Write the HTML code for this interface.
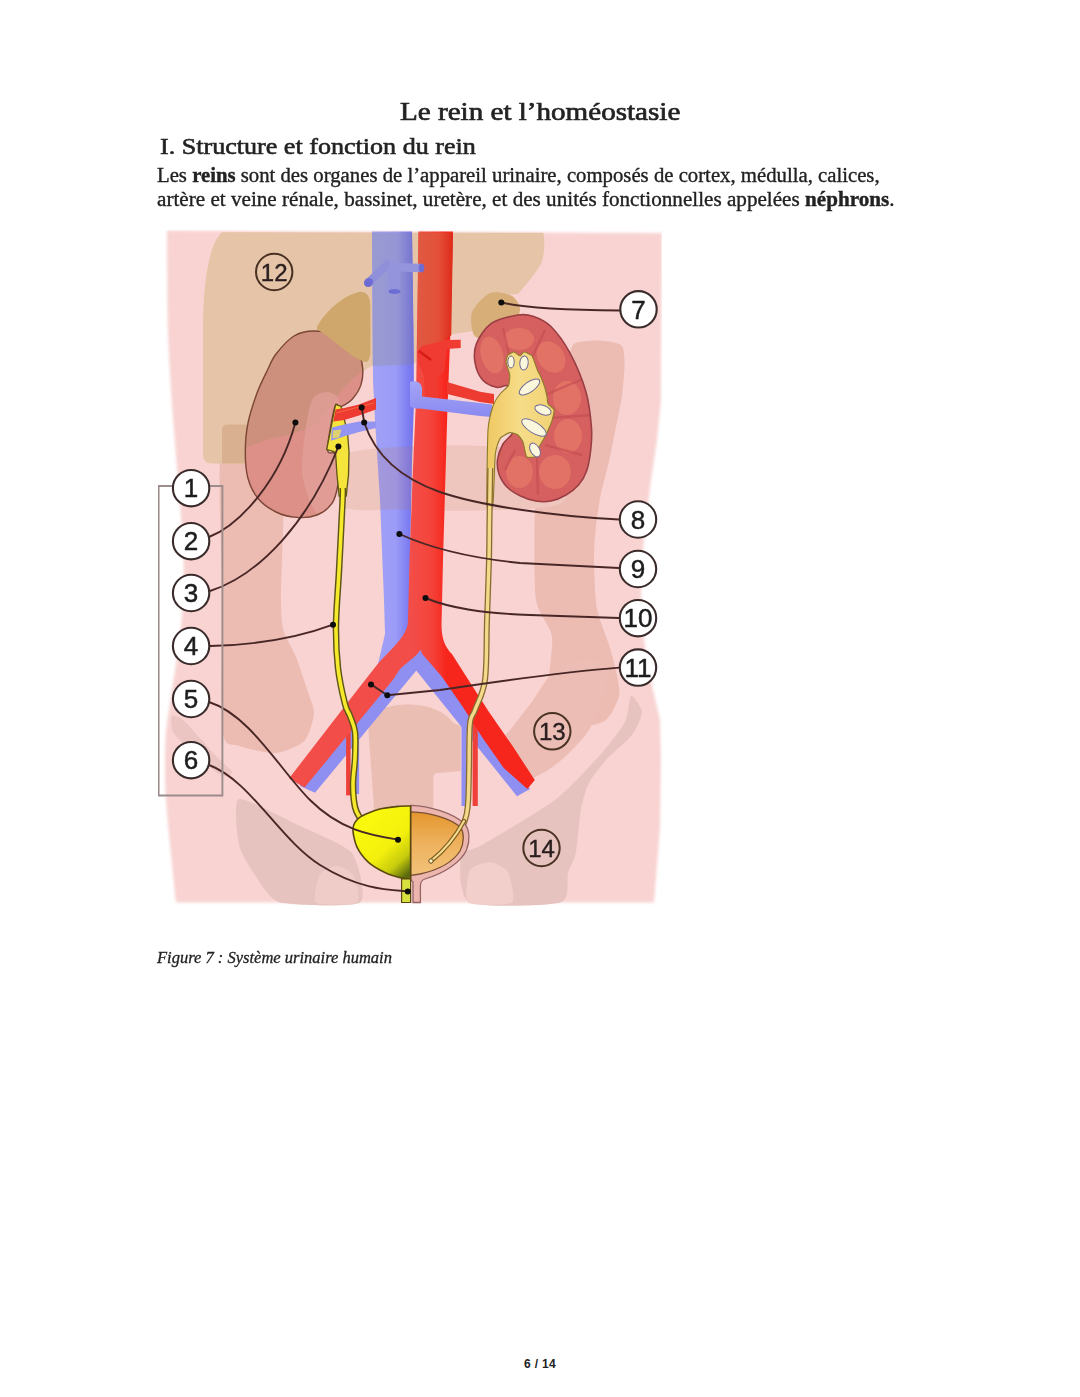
<!DOCTYPE html>
<html><head><meta charset="utf-8">
<style>
html,body{margin:0;padding:0;background:#fff;width:1080px;height:1397px;overflow:hidden;position:relative}
.t{position:absolute;white-space:nowrap;color:#222;font-family:"Liberation Serif",serif;line-height:1;margin:0}
#title{left:400px;top:99px;font-size:26px;font-weight:normal;-webkit-text-stroke:0.7px #262626;transform-origin:0 0;transform:scaleX(1.119)}
#h1{left:160px;top:135px;font-size:23px;font-weight:normal;-webkit-text-stroke:0.6px #262626;transform-origin:0 0;transform:scaleX(1.134)}
#p1{left:157px;top:165px;font-size:20px;-webkit-text-stroke:0.35px #222;transform-origin:0 0;transform:scaleX(1.037)}
#p2{left:157px;top:189px;font-size:20px;-webkit-text-stroke:0.35px #222;transform-origin:0 0;transform:scaleX(1.057)}
#cap{left:157px;top:950px;font-size:16px;-webkit-text-stroke:0.3px #262626;font-style:italic;transform-origin:0 0;transform:scaleX(1.032)}
#pg{left:524px;top:1358px;font-size:12px;letter-spacing:0.35px;font-weight:bold;font-family:"Liberation Sans",sans-serif}
svg#d{position:absolute;left:0;top:0}
</style></head><body>
<div class="t" id="title">Le rein et l’homéostasie</div>
<div class="t" id="h1">I. Structure et fonction du rein</div>
<div class="t" id="p1">Les <b>reins</b> sont des organes de l’appareil urinaire, composés de cortex, médulla, calices,</div>
<div class="t" id="p2">artère et veine rénale, bassinet, uretère, et des unités fonctionnelles appelées <b>néphrons</b>.</div>
<div class="t" id="cap">Figure 7 : Système urinaire humain</div>
<div class="t" id="pg">6 / 14</div>
<svg id="d" width="1080" height="1397" viewBox="0 0 1080 1397">
<defs>
<linearGradient id="gvc" x1="0" x2="1" y1="0" y2="0"><stop offset="0" stop-color="#a0a0f6"/><stop offset="0.55" stop-color="#9c9cf8"/><stop offset="1" stop-color="#7070ee"/></linearGradient>
<linearGradient id="gvcU" x1="0" x2="1" y1="0" y2="0"><stop offset="0" stop-color="#9a9ad2"/><stop offset="0.6" stop-color="#9696d6"/><stop offset="1" stop-color="#7272d0"/></linearGradient>
<linearGradient id="gao" x1="0" x2="1" y1="0" y2="0"><stop offset="0" stop-color="#f24c46"/><stop offset="0.55" stop-color="#f4443c"/><stop offset="1" stop-color="#f81c12"/></linearGradient>
<linearGradient id="gaoU" x1="0" x2="1" y1="0" y2="0"><stop offset="0" stop-color="#e05a42"/><stop offset="0.6" stop-color="#e4503a"/><stop offset="1" stop-color="#de2a18"/></linearGradient>
<linearGradient id="gbl" x1="0.2" x2="0.85" y1="0.1" y2="1"><stop offset="0" stop-color="#fafa0a"/><stop offset="0.55" stop-color="#f4f010"/><stop offset="0.8" stop-color="#c8cc10"/><stop offset="1" stop-color="#5c6c08"/></linearGradient>
<linearGradient id="gbr" x1="0" x2="0" y1="0" y2="1"><stop offset="0" stop-color="#e4962e"/><stop offset="0.5" stop-color="#eeb25e"/><stop offset="1" stop-color="#f2c27a"/></linearGradient>
<linearGradient id="gpel" x1="0" x2="1" y1="0" y2="0"><stop offset="0" stop-color="#efc862"/><stop offset="0.5" stop-color="#f6dc88"/><stop offset="1" stop-color="#f1d274"/></linearGradient>
<filter id="soft" x="0" y="0" width="1" height="1"><feGaussianBlur stdDeviation="0.55"/></filter>
<linearGradient id="gaoY" gradientUnits="userSpaceOnUse" x1="410" x2="447" y1="0" y2="0"><stop offset="0" stop-color="#f24e48"/><stop offset="0.55" stop-color="#f4443c"/><stop offset="1" stop-color="#f7261c"/></linearGradient>
</defs>
<g filter="url(#soft)">
<filter id="silb" x="-0.05" y="-0.05" width="1.1" height="1.1"><feGaussianBlur stdDeviation="1.6"/></filter>
<path d="M167,230.5C167.1,243.8 167.4,307.4 168,330C168.6,352.6 170.7,384 171.7,400C172.7,416 174.6,436.7 175.6,450C176.6,463.3 178.5,486.7 179.5,500C180.5,513.3 182.8,536.7 183.3,550C183.8,563.3 184,586.7 183.3,600C182.6,613.3 179.7,636.7 178,650C176.3,663.3 172.2,688 170.5,700C168.8,712 166.1,726.7 165.5,740C164.9,753.3 164.6,778.3 166,800C167.4,821.7 174.7,888.8 176,902.5 L654,902.5 L660,827 L661,760 L660,720 L653,690 L646,655 L642,620 L641,590 L642,560 L646,520 L651,480 L657,440 L661,400 L662,233Z" fill="#f8d3d1" filter="url(#silb)"/>
<path d="M222.6,440C229.4,421.3 274.2,421.3 281,440C287.8,458.7 280.6,577.6 281,600C281.4,622.4 282.2,625.4 284,632C285.8,638.6 293.1,649.6 296,657C298.9,664.4 306.9,688.4 309,695C311.1,701.6 314.5,708.6 314,714C313.5,719.4 308.8,736.5 304.4,741C300,745.5 283.6,752.4 276,753C268.4,753.6 245.6,748.5 239.4,746C233.2,743.5 224.6,748.5 222.6,731.5C220.6,714.5 222.6,634 222.6,600C222.6,566 215.8,458.7 222.6,440Z" fill="#ecbcb3"/>
<path d="M574,344C577.5,341.1 592.5,340.4 598,340.5C603.5,340.6 617.9,342.4 621,345C624.1,347.6 624.5,357.1 624.6,363C624.7,368.9 623,388.3 622,396C621,403.7 617.1,421 615.6,428.7C614.1,436.4 610.7,453.9 609,461.6C607.3,469.3 602.3,486.9 600.8,494.6C599.3,502.3 596.6,519.9 595.8,527.5C595,535.1 593.9,550.5 594,560C594.1,569.5 595,598.4 597,609C599,619.6 608.4,641.2 611,651C613.6,660.8 620.1,685 619.5,693C618.9,701 610.6,716.3 606,720C601.4,723.7 586.6,727.3 580,725C573.4,722.7 552.3,710.3 549,700C545.7,689.7 553.5,648.7 552,637C550.5,625.3 538,614.7 536,600C534,585.3 534,526.2 535,511C536,495.8 542.1,480.6 545,470C547.9,459.4 557.3,432.2 560,420C562.7,407.8 566.4,373.9 568,365C569.6,356.1 570.5,346.9 574,344Z" fill="#ecbcb3"/>
<path d="M560,665C569.5,659.5 595.9,659.2 602,662C608.1,664.8 607.7,676.9 606,686C604.3,695.1 595.3,719.9 589,730C582.7,740.1 567,755.5 559,762C551,768.5 536.2,777.9 529,779C521.8,780.1 509.8,774 505,770C500.2,766 492.3,754.3 493,749C493.7,743.7 504.9,736.1 510,730C515.1,723.9 524.3,711.7 531,703C537.7,694.3 550.5,670.5 560,665Z" fill="#ecbdb5"/>
<path d="M342,456C352.4,448 398.9,447.2 420,446C441.1,444.8 481.3,445.4 500,447C518.7,448.6 551.7,450.5 560,458C568.3,465.5 572.7,496 562,503C551.3,510 501.6,509.6 480,510.5C458.4,511.4 418.4,510.1 400,509.5C381.6,508.9 349.7,513.1 342,506C334.3,498.9 331.6,464 342,456Z" fill="#efc6bd"/>
<path d="M379,710 C390,705.5 400,704.6 410,704.6 C430,705 445,712 453,722.8 L460.6,726 L460.6,771 L436,773.3 C434,774 433.3,776 433.3,778 L433.3,812 L374,812 L373.7,803 L368.5,731.8 C369,720 373,712 379,710 Z" fill="#ebbeb4"/>
<path d="M172,716C173.3,714.4 179.3,717.1 183,720C186.7,722.9 195.3,732.9 200,738C204.7,743.1 213.7,753.5 218,758C222.3,762.5 231.5,769.6 232,772C232.5,774.4 225.7,777.3 222,776C218.3,774.7 208.8,766 204,762C199.2,758 190.1,750 186,746C181.9,742 174.9,736 173,732C171.1,728 170.7,717.6 172,716Z" fill="#ebc5c1"/>
<path d="M239,799C245.1,797.1 288.7,820.6 300,826C311.3,831.4 346,845.4 352,853C358,860.6 367.2,897.5 360,902.5C352.8,907.5 290.5,905.2 280,902.5C269.5,899.8 259.1,880.8 255,875C250.9,869.2 240.6,852.6 239,845C237.4,837.4 232.9,800.9 239,799Z" fill="#e6c3be"/>
<path d="M631,696C633,694.8 641.9,707.5 642,712C642.1,716.5 636.2,729.4 632,735C627.8,740.6 611,754.4 606,760C601,765.6 591.9,777.3 589,783C586.1,788.7 582.5,801 581,809C579.5,817 577.5,844.5 576,852C574.5,859.5 569.9,867.1 568,873C566.1,878.9 571.4,899.1 560,902.5C548.6,905.9 481.6,907.9 470,902.5C458.4,897.1 459.6,862.7 461,856C462.4,849.3 471,851.5 482,845C493,838.5 541.2,810.5 555,800C568.8,789.5 591.8,764.1 600,755C608.2,745.9 621.4,728.9 625,722C628.6,715.1 629,697.2 631,696Z" fill="#e6c3be"/>
<path d="M470,870C472.2,866 486.2,861.8 490,862C493.8,862.2 505.8,868 508,872C510.2,876 516,899.5 512,902.5C508,905.5 472.2,905.8 468,902.5C463.8,899.2 467.8,874 470,870Z" fill="#f3cfcc"/>
<path d="M320,874C322.2,870.4 334.6,865.8 338,866C341.4,866.2 352.1,872.4 354,876C355.9,879.6 360.8,899.9 357,902.5C353.2,905.1 319.7,905.4 316,902.5C312.3,899.6 317.8,877.6 320,874Z" fill="#f0ccc8"/>
<path d="M222,232.2 L543.3,232.8 C545,240 544.5,252 542,262 C539,268 530,281 517.8,294 L492,296 C482,302 476,312 473,331 L453,334 L413,364.5 L372,366 C360,372 350,380 340,392 C332,404 322,420 311,428 C295,433 275,438 266,440 L247,447 L246,463.5 L212,463.5 C206,463.5 203,460 203,454 L203,330 C203,300 205,275 211,253 C214,243 218,236 222,232.2 Z" fill="#e5c4a8"/>
<clipPath id="livc"><path d="M222,232.2 L543.3,232.8 C545,240 544.5,252 542,262 C539,268 530,281 517.8,294 L492,296 C482,302 476,312 473,331 L453,334 L413,364.5 L372,366 C360,372 350,380 340,392 C332,404 322,420 311,428 C295,433 275,438 266,440 L247,447 L246,463.5 L212,463.5 C206,463.5 203,460 203,454 L203,330 C203,300 205,275 211,253 C214,243 218,236 222,232.2 Z"/></clipPath>
<path d="M222,463.5 L222,430 C222,426 224,424.4 228,424.4 L250,424.4 L250,463.5 Z" fill="#d9b191"/>
<path d="M490,293C495.3,290.9 508,293.7 512,296C516,298.3 520.3,305.5 520,310C519.7,314.5 514,326 510,330C506,334 494.8,339.3 490,340C485.2,340.7 476.4,338.7 474,335C471.6,331.3 469.9,317.6 472,312C474.1,306.4 484.7,295.1 490,293Z" fill="#d7ad78"/>
<clipPath id="rkc"><path d="M314,331C307.1,331 299.7,332.6 294,336C288.3,339.4 280.1,348.8 276,354C271.9,359.2 269.9,365.1 267,371C264.1,376.9 259.9,385.2 257,393C254.2,400.8 249.8,414.1 248,423C246.2,431.9 245.3,443.7 245.3,452C245.3,460.3 246,471.4 248,478.5C250,485.6 254.3,494 258.5,499C262.7,504 270.3,509.2 276,512C281.7,514.8 290.5,516.9 296.6,517.4C302.8,517.9 311.7,517.1 317,515C322.3,512.9 328.9,507.8 332,503.4C335.1,499 336.6,491.8 337.7,486C338.8,480.2 339.4,469.9 339,465C338.6,460.1 336.7,455.9 335,453.5C333.3,451.1 327.5,456 327.5,449C327.5,442 332.8,413.4 334.8,407C336.8,400.6 338.4,407.8 341,406.6C343.6,405.4 349.4,402.3 352.4,399C355.4,395.7 359.5,389.2 361,384.6C362.5,380 363.1,373.3 362.7,368.4C362.2,363.5 361.4,356.9 358,352C354.6,347.1 346.6,339.1 340,336C333.4,332.9 320.9,331 314,331Z"/></clipPath>
<path d="M314,331C307.1,331 299.7,332.6 294,336C288.3,339.4 280.1,348.8 276,354C271.9,359.2 269.9,365.1 267,371C264.1,376.9 259.9,385.2 257,393C254.2,400.8 249.8,414.1 248,423C246.2,431.9 245.3,443.7 245.3,452C245.3,460.3 246,471.4 248,478.5C250,485.6 254.3,494 258.5,499C262.7,504 270.3,509.2 276,512C281.7,514.8 290.5,516.9 296.6,517.4C302.8,517.9 311.7,517.1 317,515C322.3,512.9 328.9,507.8 332,503.4C335.1,499 336.6,491.8 337.7,486C338.8,480.2 339.4,469.9 339,465C338.6,460.1 336.7,455.9 335,453.5C333.3,451.1 327.5,456 327.5,449C327.5,442 332.8,413.4 334.8,407C336.8,400.6 338.4,407.8 341,406.6C343.6,405.4 349.4,402.3 352.4,399C355.4,395.7 359.5,389.2 361,384.6C362.5,380 363.1,373.3 362.7,368.4C362.2,363.5 361.4,356.9 358,352C354.6,347.1 346.6,339.1 340,336C333.4,332.9 320.9,331 314,331Z" fill="#dc9088"/>
<g clip-path="url(#rkc)">
<g clip-path="url(#livc)">
<path d="M230,300 L380,300 L380,530 L230,530Z" fill="#cd907b"/>
</g>
<path d="M312,400C316.8,390.4 333.7,390 338,398C342.3,406 344,445.3 344,460C344,474.7 341.7,501.1 338,508C334.3,514.9 320.8,517.1 316,512C311.2,506.9 302.5,484.9 302,470C301.5,455.1 307.2,409.6 312,400Z" fill="#e2a09a" opacity="0.75"/>
</g>
<path d="M314,331C307.1,331 299.7,332.6 294,336C288.3,339.4 280.1,348.8 276,354C271.9,359.2 269.9,365.1 267,371C264.1,376.9 259.9,385.2 257,393C254.2,400.8 249.8,414.1 248,423C246.2,431.9 245.3,443.7 245.3,452C245.3,460.3 246,471.4 248,478.5C250,485.6 254.3,494 258.5,499C262.7,504 270.3,509.2 276,512C281.7,514.8 290.5,516.9 296.6,517.4C302.8,517.9 311.7,517.1 317,515C322.3,512.9 328.9,507.8 332,503.4C335.1,499 336.6,491.8 337.7,486C338.8,480.2 339.4,469.9 339,465C338.6,460.1 336.7,455.9 335,453.5C333.3,451.1 327.5,456 327.5,449C327.5,442 332.8,413.4 334.8,407C336.8,400.6 338.4,407.8 341,406.6C343.6,405.4 349.4,402.3 352.4,399C355.4,395.7 359.5,389.2 361,384.6C362.5,380 363.1,373.3 362.7,368.4C362.2,363.5 361.4,356.9 358,352C354.6,347.1 346.6,339.1 340,336C333.4,332.9 320.9,331 314,331Z" fill="none" stroke="#7c4636" stroke-width="1.4"/>
<path d="M335.6,404.4 L341,406.5 L347.5,432 L349,452 L348.5,475 L346.2,496 L339.2,496 L337,475 L335.6,454 L334,451.5 L326.7,449.6Z" fill="#f4e43a" stroke="#5e5418" stroke-width="1.3"/>
<path d="M317,327 C325,312 342,296 359,292 C366,291 370,296 370.4,305 L370.4,352 C370,359 368,362 366,362 C358,360 350,354 344,349.4 C335,342 325,334 317,329.5 Z" fill="#cfa76c"/>
<path d="M518,315C511.6,316.1 497.2,319.3 491,323.6C484.8,327.9 478.9,337.8 476.5,343.6C474.1,349.4 474.1,356.9 475,362.3C475.9,367.7 479,375.6 482.2,379.4C485.4,383.1 492.6,386.3 496.5,387.3C500.4,388.3 505.2,384.1 508,386C510.8,387.9 514.1,393.4 515,400C515.9,406.6 515.8,423.4 514,430C512.2,436.6 505.5,439.5 503,444C500.5,448.5 498.1,455.5 497.5,460C496.9,464.5 497.6,469.9 499,474C500.4,478.1 503.8,483.7 507,487C510.2,490.3 516.2,493.9 520.5,496C524.8,498.1 531.1,500.2 535.7,501C540.3,501.8 546.5,501.9 551,501C555.5,500.1 561.9,497.4 566,495C570.1,492.6 575.4,488.6 578.5,485C581.6,481.4 584.9,475.9 586.7,470.7C588.5,465.4 590,456.4 590.7,450C591.4,443.6 592.2,436.7 591.5,428C590.8,419.3 589.3,403.4 586,392C582.7,380.6 574.8,362 569.5,352.2C564.2,342.4 556.3,331.9 550.9,326.5C545.5,321.1 538.6,318.2 533.7,316.5C528.8,314.8 524.4,313.9 518,315Z" fill="#d5615f"/>
<clipPath id="lkc"><path d="M518,315C511.6,316.1 497.2,319.3 491,323.6C484.8,327.9 478.9,337.8 476.5,343.6C474.1,349.4 474.1,356.9 475,362.3C475.9,367.7 479,375.6 482.2,379.4C485.4,383.1 492.6,386.3 496.5,387.3C500.4,388.3 505.2,384.1 508,386C510.8,387.9 514.1,393.4 515,400C515.9,406.6 515.8,423.4 514,430C512.2,436.6 505.5,439.5 503,444C500.5,448.5 498.1,455.5 497.5,460C496.9,464.5 497.6,469.9 499,474C500.4,478.1 503.8,483.7 507,487C510.2,490.3 516.2,493.9 520.5,496C524.8,498.1 531.1,500.2 535.7,501C540.3,501.8 546.5,501.9 551,501C555.5,500.1 561.9,497.4 566,495C570.1,492.6 575.4,488.6 578.5,485C581.6,481.4 584.9,475.9 586.7,470.7C588.5,465.4 590,456.4 590.7,450C591.4,443.6 592.2,436.7 591.5,428C590.8,419.3 589.3,403.4 586,392C582.7,380.6 574.8,362 569.5,352.2C564.2,342.4 556.3,331.9 550.9,326.5C545.5,321.1 538.6,318.2 533.7,316.5C528.8,314.8 524.4,313.9 518,315Z"/></clipPath>
<g clip-path="url(#lkc)">
<ellipse cx="492" cy="355" rx="11" ry="19" transform="rotate(-15 492 355)" fill="#e27265"/>
<ellipse cx="519" cy="339" rx="15" ry="11" transform="rotate(0 519 339)" fill="#e27265"/>
<ellipse cx="551" cy="357" rx="13" ry="17" transform="rotate(-35 551 357)" fill="#e27265"/>
<ellipse cx="567" cy="398" rx="14" ry="17" transform="rotate(0 567 398)" fill="#e27265"/>
<ellipse cx="568" cy="436" rx="14" ry="17" transform="rotate(0 568 436)" fill="#e27265"/>
<ellipse cx="555" cy="472" rx="16" ry="17" transform="rotate(0 555 472)" fill="#e27265"/>
<ellipse cx="519.5" cy="472" rx="13.5" ry="16" transform="rotate(0 519.5 472)" fill="#e27265"/>
<path d="M510,360 L503,328" fill="none" stroke="#c44a52" stroke-width="2.4" opacity="0.6"/>
<path d="M530,362 L545,330" fill="none" stroke="#c44a52" stroke-width="2.4" opacity="0.6"/>
<path d="M545,395 L585,378" fill="none" stroke="#c44a52" stroke-width="2.4" opacity="0.6"/>
<path d="M550,418 L590,415" fill="none" stroke="#c44a52" stroke-width="2.4" opacity="0.6"/>
<path d="M545,445 L582,455" fill="none" stroke="#c44a52" stroke-width="2.4" opacity="0.6"/>
<path d="M537,456 L538,495" fill="none" stroke="#c44a52" stroke-width="2.4" opacity="0.6"/>
<path d="M515,450 L505,470" fill="none" stroke="#c44a52" stroke-width="2.4" opacity="0.6"/>
</g>
<path d="M518,315C511.6,316.1 497.2,319.3 491,323.6C484.8,327.9 478.9,337.8 476.5,343.6C474.1,349.4 474.1,356.9 475,362.3C475.9,367.7 479,375.6 482.2,379.4C485.4,383.1 492.6,386.3 496.5,387.3C500.4,388.3 505.2,384.1 508,386C510.8,387.9 514.1,393.4 515,400C515.9,406.6 515.8,423.4 514,430C512.2,436.6 505.5,439.5 503,444C500.5,448.5 498.1,455.5 497.5,460C496.9,464.5 497.6,469.9 499,474C500.4,478.1 503.8,483.7 507,487C510.2,490.3 516.2,493.9 520.5,496C524.8,498.1 531.1,500.2 535.7,501C540.3,501.8 546.5,501.9 551,501C555.5,500.1 561.9,497.4 566,495C570.1,492.6 575.4,488.6 578.5,485C581.6,481.4 584.9,475.9 586.7,470.7C588.5,465.4 590,456.4 590.7,450C591.4,443.6 592.2,436.7 591.5,428C590.8,419.3 589.3,403.4 586,392C582.7,380.6 574.8,362 569.5,352.2C564.2,342.4 556.3,331.9 550.9,326.5C545.5,321.1 538.6,318.2 533.7,316.5C528.8,314.8 524.4,313.9 518,315Z" fill="none" stroke="#9a3e44" stroke-width="1.6"/>
<path d="M300,786 L315,792.8 L416.3,670.4 L517,796.3 L530,789 L425,640 L410,640Z" fill="#8f8ff2"/>
<path d="M346.1,728 L350.6,728 L350.6,795.4 L346.1,795.4Z" fill="#ee4038"/>
<path d="M355.2,728 L359.1,728 L359.1,794 L355.2,794Z" fill="#8f8ff2"/>
<path d="M461.5,712 L466.7,712 L466.7,806 L461.5,806Z" fill="#8f8ff2"/>
<path d="M472.6,712 L477.8,712 L477.8,806 L472.6,806Z" fill="#ee4038"/>
<path d="M372,231.5 L412,231.5 L413.5,330 L414,400 L412,460 L410,560 L409,630 L400,660 L378,664 L385,634 L384,600 L380,500 L375,420 L373,380Z" fill="url(#gvc)"/>
<g clip-path="url(#livc)">
<path d="M372,231.5 L412,231.5 L414,400 L373,400Z" fill="url(#gvcU)"/>
</g>
<path d="M376,421.5 L359,421.5 L344.4,424.4 L331.9,427.4 L331,440.7 L344.4,436.3 L359,431.9 L376,428Z" fill="#9494f2"/>
<path d="M333,430.5 L341.5,429.5 L339,437.5 L332.5,438.5Z" fill="#f0e050" opacity="0.8"/>
<path d="M418.5,231.5 L453,231.5 L450.5,330 L447.4,410 L443,560 L441.5,625 C441.5,640 446,648 451.9,654 L468,679.3 L489,711.9 L512.6,746 L534.8,780 L527.4,788.9 L503.7,768 L483,738.5 L462.2,706 L441.5,676.3 L422.2,654 C421,650 420.5,649.6 420.7,649.6 C418,655 408,662 400,668.9 L392.8,680 L304.6,787.6 L289,778.5 L359,687.8 L377.7,664 C395,645 408,635 408,620 L409.5,560 L412.5,480 L416,400 Z" fill="url(#gaoY)"/>
<g clip-path="url(#livc)">
<path d="M418.5,231.5 L453,231.5 L450.5,380 L417,380Z" fill="url(#gaoU)"/>
</g>
<path d="M390,262 L369,282" fill="none" stroke="#9090da" stroke-width="8"/>
<path d="M390,267 L421,268" fill="none" stroke="#9494dc" stroke-width="8.5"/>
<path d="M394,268 L394,291" fill="none" stroke="#9494dc" stroke-width="12"/>
<circle cx="394" cy="267" r="6" fill="#9494dc"/>
<ellipse cx="368.5" cy="282.5" rx="4.3" ry="4.8" transform="rotate(42 368.5 282.5)" fill="#6c6cd4"/><ellipse cx="421.5" cy="268" rx="2.8" ry="4.3" fill="#6c6cd4"/><ellipse cx="394.5" cy="291.5" rx="6" ry="2.6" fill="#6c6cd4"/>
<path d="M422,346 L447,340 L460.7,339.8 L460.7,348 L447,349 L444,372 L437,376 L437,400 L425,400 L424,376 L419,365 L417,352Z" fill="#f03a30"/>
<path d="M419,351 L431,360" fill="none" stroke="#d81a18" stroke-width="2.5"/>
<path d="M447,382 L480,391.7 L494,394 L494,404 L480,402 L447,394Z" fill="#ee3a32"/>
<path d="M376,398 L359,404.4 L344.4,408 L335.6,409.6 L333.3,421.5 L344.4,420 L359,415.6 L376,409.6Z" fill="#ee3a30"/>
<path d="M374,403 L336,413" fill="none" stroke="#f47a50" stroke-width="1.2" opacity="0.7"/>
<linearGradient id="grv" x1="0" x2="0" y1="0" y2="1"><stop offset="0" stop-color="#a4a4f8"/><stop offset="1" stop-color="#8a8af0"/></linearGradient>
<path d="M410,382 C416,380 421,382 422,388 L422,396.5 L480,403 L492,404.5 L492,417 L480,416 L420,408.5 C416,409 411,408 410,406 Z" fill="url(#grv)"/>
<clipPath id="vclip"><path d="M372,231.5 L412,231.5 L413.5,330 L414,400 L412,460 L410,560 L409,630 L400,660 L378,664 L385,634 L384,600 L380,500 L375,420 L373,380Z"/></clipPath>
<path d="M342,456C352.4,448 398.9,447.2 420,446C441.1,444.8 481.3,445.4 500,447C518.7,448.6 551.7,450.5 560,458C568.3,465.5 572.7,496 562,503C551.3,510 501.6,509.6 480,510.5C458.4,511.4 418.4,510.1 400,509.5C381.6,508.9 349.7,513.1 342,506C334.3,498.9 331.6,464 342,456Z" fill="rgb(187,116,70)" opacity="0.15" clip-path="url(#vclip)"/>
<path d="M486.9,505C486.5,498.8 487.5,438.2 488,430C488.5,421.8 492,409 493,406C494,403 498.7,395.7 500,394C501.3,392.3 507.7,387.2 508.5,385.6C509.3,384 509.9,376.8 509.7,374.8C509.5,372.8 506.1,363.6 506,362C505.9,360.4 507.3,355.8 508,355C508.7,354.2 513,351.9 514,352C515,352.1 519.2,356 520,356C520.8,356 523,352 524,352C525,352 530.9,354.5 532,356C533.1,357.5 536.6,368.2 537.4,370C538.1,371.8 540.4,375.8 541,377.2C541.6,378.6 544.1,385.3 544.6,386.9C545.1,388.5 546.7,395.1 547,396.5C547.3,397.9 547.4,402.6 548,403.7C548.6,404.8 553.7,408.3 554,409.7C554.3,411.1 552.5,418.9 552,420.6C551.5,422.3 548.8,428.6 548.2,430C547.6,431.4 545.4,435.9 544.6,437.4C543.8,438.9 539.4,446.4 538.6,448C537.8,449.6 536,456 535,456.7C534,457.4 527.6,457.9 526.6,456.7C525.6,455.5 523.7,443.8 523,442C522.3,440.2 519.1,435.8 518,435C516.9,434.2 511.2,432.3 509.7,432.6C508.2,432.9 501.2,436.8 500,438.6C498.8,440.4 495.9,448.5 495.3,454C494.7,459.5 493.6,500.8 492.9,505C492.2,509.2 487.3,511.2 486.9,505Z" fill="url(#gpel)" stroke="#8a7a2a" stroke-width="1.1"/>
<ellipse cx="511" cy="362" rx="3.2" ry="6" transform="rotate(0 511 362)" fill="#fbf7dc" stroke="#6e6a96" stroke-width="1"/>
<ellipse cx="524" cy="363" rx="4.2" ry="7" transform="rotate(5 524 363)" fill="#fbf7dc" stroke="#6e6a96" stroke-width="1"/>
<ellipse cx="529.5" cy="387" rx="12" ry="5" transform="rotate(-35 529.5 387)" fill="#fbf7dc" stroke="#6e6a96" stroke-width="1"/>
<ellipse cx="543" cy="410" rx="8.5" ry="4.5" transform="rotate(20 543 410)" fill="#fbf7dc" stroke="#6e6a96" stroke-width="1"/>
<ellipse cx="534" cy="427.5" rx="14" ry="5.5" transform="rotate(32 534 427.5)" fill="#fbf7dc" stroke="#6e6a96" stroke-width="1"/>
<ellipse cx="535" cy="450" rx="7.5" ry="4.5" transform="rotate(60 535 450)" fill="#fbf7dc" stroke="#6e6a96" stroke-width="1"/>
<path d="M342.8,488C342.8,490 343.2,486.2 342.6,500C342,513.8 340.1,550.2 339,571C337.9,591.8 336.2,608.8 336,625C335.8,641.2 336.5,654.8 338,668C339.5,681.2 343,696 345,704C347,712 348.3,711.3 350,716C351.7,720.7 354.2,725 355,732C355.8,739 355.3,749.3 355,758C354.7,766.7 353,775.8 353,784C353,792.2 353.8,801.3 355,807C356.2,812.7 359.2,816.2 360,818" fill="none" stroke="#5e5418" stroke-width="6.5" stroke-linecap="butt"/>
<path d="M342.8,488C342.8,490 343.2,486.2 342.6,500C342,513.8 340.1,550.2 339,571C337.9,591.8 336.2,608.8 336,625C335.8,641.2 336.5,654.8 338,668C339.5,681.2 343,696 345,704C347,712 348.3,711.3 350,716C351.7,720.7 354.2,725 355,732C355.8,739 355.3,749.3 355,758C354.7,766.7 353,775.8 353,784C353,792.2 353.8,801.3 355,807C356.2,812.7 359.2,816.2 360,818" fill="none" stroke="#f6ea2a" stroke-width="3.6" stroke-linecap="butt"/>
<path d="M490.3,468C490.2,471.7 490.1,481.3 490,490C489.9,498.7 489.7,508.3 489.5,520C489.3,531.7 489.4,543.3 489,560C488.6,576.7 487.7,600 487,620C486.3,640 487,665 485,680C483,695 477.5,702.7 475,710C472.5,717.3 471,714 470,724C469,734 469.3,756.8 469,770C468.7,783.2 468.7,794.7 468,803C467.3,811.3 467.5,813.2 465,820C462.5,826.8 458.6,837.3 453,844C447.4,850.7 435.1,857.3 431.5,860" fill="none" stroke="#8a6a30" stroke-width="6" stroke-linecap="butt"/>
<path d="M490.3,468C490.2,471.7 490.1,481.3 490,490C489.9,498.7 489.7,508.3 489.5,520C489.3,531.7 489.4,543.3 489,560C488.6,576.7 487.7,600 487,620C486.3,640 487,665 485,680C483,695 477.5,702.7 475,710C472.5,717.3 471,714 470,724C469,734 469.3,756.8 469,770C468.7,783.2 468.7,794.7 468,803C467.3,811.3 467.5,813.2 465,820C462.5,826.8 458.6,837.3 453,844C447.4,850.7 435.1,857.3 431.5,860" fill="none" stroke="#f3d98a" stroke-width="3.4" stroke-linecap="butt"/>
<path d="M410.6,805.4 C430,806 452,813 464.4,823.5 C469.5,829 470.5,840 466.5,850 C461,862 445,873 425,879 C421.5,880 420.4,882 420.4,886 L420.4,902.5 L413,902.5 L413,882 L410.6,880 Z" fill="#ecb6ae" stroke="#946464" stroke-width="1.3"/>
<path d="M410.6,811.9 C430,812.5 450,818 460.6,827.4 C464.5,833 464,844 460,851 C453,862 438,870 420,874 L410.6,875.4 Z" fill="url(#gbr)" stroke="#7a5030" stroke-width="1.3"/>
<path d="M410.6,806C409,806.1 402.5,806 398.3,806.4C394.1,806.8 384.1,807.8 378.9,809.3C373.7,810.8 362.9,815.1 359.4,817.7C355.9,820.3 353.3,824.8 353,828.7C352.7,832.6 354.8,842.4 356.9,846.9C359,851.4 364.7,858.9 368.5,862.4C372.3,865.9 381.1,870.7 385.4,872.8C389.7,874.9 397.6,877.1 401,878C404.4,878.9 409.3,879.1 410.6,879.3Z" fill="url(#gbl)" stroke="#5a4a10" stroke-width="1.6"/>
<path d="M401.6,879 L410.6,879 L410.6,902.5 L401.6,902.5Z" fill="#d8e040" stroke="#5a4a10" stroke-width="1.2"/>
<path d="M464,821 C455,838 445,850 431,861" fill="none" stroke="#7a5a20" stroke-width="4.5" stroke-linecap="round"/>
<path d="M464,821 C455,838 445,850 431,861" fill="none" stroke="#f3d98a" stroke-width="2.2" stroke-linecap="round"/>
<circle cx="431" cy="861" r="2.2" fill="#fbf6c0" stroke="#6a5020" stroke-width="1"/>
<path d="M209,537 C240,525 280,480 295.4,422.4" fill="none" stroke="#4a2828" stroke-width="1.9"/>
<path d="M210,591 C260,575 310,520 338.4,446.5" fill="none" stroke="#4a2828" stroke-width="1.9"/>
<path d="M210,646 C260,645 300,637 333,624.7" fill="none" stroke="#4a2828" stroke-width="1.9"/>
<path d="M209,702 C250,715 280,770 310,800 S370,835 398,839.7" fill="none" stroke="#4a2828" stroke-width="1.9"/>
<path d="M209,765 C250,780 280,840 320,865 S390,890 407.8,891.4" fill="none" stroke="#4a2828" stroke-width="1.9"/>
<path d="M501.3,302.5 C520,307 560,310 620,310.5" fill="none" stroke="#4a2828" stroke-width="1.9"/>
<path d="M364.2,422.5 C375,455 400,478 440,492 S560,517 619,519.5" fill="none" stroke="#4a2828" stroke-width="1.9"/>
<path d="M361.7,407.5 L364.2,422.5" fill="none" stroke="#4a2828" stroke-width="1.9"/>
<path d="M399.4,534 C430,548 470,558 520,563 L619,568" fill="none" stroke="#4a2828" stroke-width="1.9"/>
<path d="M425.5,598 C450,608 480,613 530,615 L619,618" fill="none" stroke="#4a2828" stroke-width="1.9"/>
<path d="M619,667.6 C560,672 480,684 440,690 L387.3,695.3" fill="none" stroke="#4a2828" stroke-width="1.9"/>
<path d="M371,684.4 L387.3,695.3" fill="none" stroke="#4a2828" stroke-width="1.9"/>
<circle cx="295.4" cy="422.4" r="3" fill="#0a0a0a"/>
<circle cx="338.4" cy="446.5" r="3" fill="#0a0a0a"/>
<circle cx="333" cy="624.7" r="3" fill="#0a0a0a"/>
<circle cx="398" cy="839.7" r="3" fill="#0a0a0a"/>
<circle cx="407.8" cy="891.4" r="3" fill="#0a0a0a"/>
<circle cx="501.3" cy="302.5" r="3" fill="#0a0a0a"/>
<circle cx="364.2" cy="422.5" r="3" fill="#0a0a0a"/>
<circle cx="361.7" cy="407.5" r="3" fill="#0a0a0a"/>
<circle cx="399.4" cy="534" r="3" fill="#0a0a0a"/>
<circle cx="425.5" cy="598" r="3" fill="#0a0a0a"/>
<circle cx="387.3" cy="695.3" r="3" fill="#0a0a0a"/>
<circle cx="371" cy="684.4" r="3" fill="#0a0a0a"/>
<path d="M175,486 L158.6,486 L158.6,795.5 L222.4,795.5 L222.4,486 L208,486" fill="none" stroke="#9c8c8c" stroke-width="1.9"/>
<circle cx="191.1" cy="488.2" r="18.2" fill="#fff" stroke="#3a2c2c" stroke-width="2.1"/>
<text x="191.1" y="497.4" text-anchor="middle" font-family="Liberation Sans, sans-serif" font-size="26" fill="#1e1e1e" stroke="#1e1e1e" stroke-width="0.5">1</text>
<circle cx="191.1" cy="541.2" r="18.2" fill="#fff" stroke="#3a2c2c" stroke-width="2.1"/>
<text x="191.1" y="550.4" text-anchor="middle" font-family="Liberation Sans, sans-serif" font-size="26" fill="#1e1e1e" stroke="#1e1e1e" stroke-width="0.5">2</text>
<circle cx="191.1" cy="593" r="18.2" fill="#fff" stroke="#3a2c2c" stroke-width="2.1"/>
<text x="191.1" y="602.2" text-anchor="middle" font-family="Liberation Sans, sans-serif" font-size="26" fill="#1e1e1e" stroke="#1e1e1e" stroke-width="0.5">3</text>
<circle cx="191.1" cy="646" r="18.2" fill="#fff" stroke="#3a2c2c" stroke-width="2.1"/>
<text x="191.1" y="655.2" text-anchor="middle" font-family="Liberation Sans, sans-serif" font-size="26" fill="#1e1e1e" stroke="#1e1e1e" stroke-width="0.5">4</text>
<circle cx="191.1" cy="699" r="18.2" fill="#fff" stroke="#3a2c2c" stroke-width="2.1"/>
<text x="191.1" y="708.2" text-anchor="middle" font-family="Liberation Sans, sans-serif" font-size="26" fill="#1e1e1e" stroke="#1e1e1e" stroke-width="0.5">5</text>
<circle cx="191.1" cy="760.2" r="18.2" fill="#fff" stroke="#3a2c2c" stroke-width="2.1"/>
<text x="191.1" y="769.4" text-anchor="middle" font-family="Liberation Sans, sans-serif" font-size="26" fill="#1e1e1e" stroke="#1e1e1e" stroke-width="0.5">6</text>
<circle cx="638.5" cy="309.3" r="18.2" fill="#fff" stroke="#3a2c2c" stroke-width="2.1"/>
<text x="638.5" y="318.5" text-anchor="middle" font-family="Liberation Sans, sans-serif" font-size="26" fill="#1e1e1e" stroke="#1e1e1e" stroke-width="0.5">7</text>
<circle cx="638" cy="519.5" r="18.2" fill="#fff" stroke="#3a2c2c" stroke-width="2.1"/>
<text x="638" y="528.7" text-anchor="middle" font-family="Liberation Sans, sans-serif" font-size="26" fill="#1e1e1e" stroke="#1e1e1e" stroke-width="0.5">8</text>
<circle cx="638" cy="569" r="18.2" fill="#fff" stroke="#3a2c2c" stroke-width="2.1"/>
<text x="638" y="578.2" text-anchor="middle" font-family="Liberation Sans, sans-serif" font-size="26" fill="#1e1e1e" stroke="#1e1e1e" stroke-width="0.5">9</text>
<circle cx="638" cy="618.2" r="18.2" fill="#fff" stroke="#3a2c2c" stroke-width="2.1"/>
<text x="638" y="627.4" text-anchor="middle" font-family="Liberation Sans, sans-serif" font-size="26" fill="#1e1e1e" stroke="#1e1e1e" stroke-width="0.5">10</text>
<circle cx="638" cy="667.6" r="18.2" fill="#fff" stroke="#3a2c2c" stroke-width="2.1"/>
<text x="638" y="676.8" text-anchor="middle" font-family="Liberation Sans, sans-serif" font-size="26" fill="#1e1e1e" stroke="#1e1e1e" stroke-width="0.5">11</text>
<circle cx="274.2" cy="272" r="18.2" fill="none" stroke="#4a3224" stroke-width="2"/>
<text x="274.2" y="280.5" text-anchor="middle" font-family="Liberation Sans, sans-serif" font-size="24" fill="#2a2020" stroke="#2a2020" stroke-width="0.4">12</text>
<circle cx="552.3" cy="731.3" r="18.2" fill="none" stroke="#4a3224" stroke-width="2"/>
<text x="552.3" y="739.8" text-anchor="middle" font-family="Liberation Sans, sans-serif" font-size="24" fill="#2a2020" stroke="#2a2020" stroke-width="0.4">13</text>
<circle cx="541.5" cy="848" r="18.2" fill="none" stroke="#4a3224" stroke-width="2"/>
<text x="541.5" y="856.5" text-anchor="middle" font-family="Liberation Sans, sans-serif" font-size="24" fill="#2a2020" stroke="#2a2020" stroke-width="0.4">14</text>
</g>
</svg>
</body></html>
